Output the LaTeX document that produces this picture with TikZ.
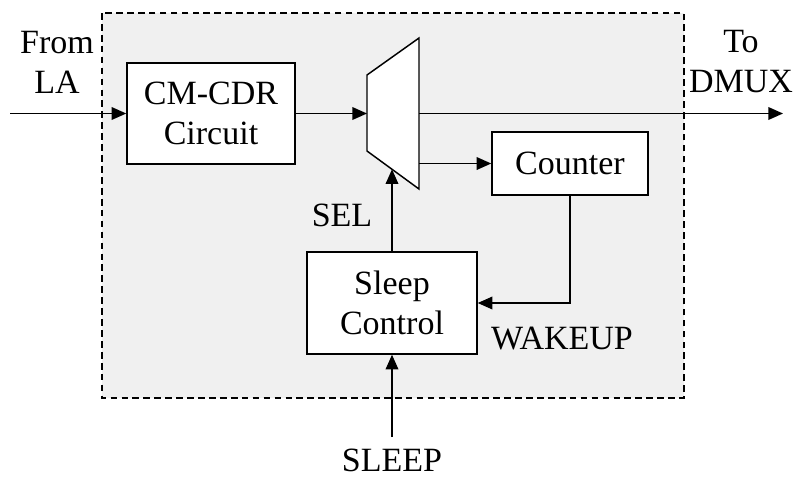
\documentclass[tikz,border=0pt]{standalone}
\usepackage{fontspec}
\setmainfont{Liberation Serif}
\usetikzlibrary{arrows.meta}
\begin{document}
\begin{tikzpicture}[x=0.75pt,y=-0.75pt,
  font=\fontsize{25.5}{30}\selectfont,
  line width=1.1pt,
  arr/.style={-{Triangle[length=11pt,width=9.5pt]}},
  blk/.style={draw, fill=white, align=center, inner sep=0pt},
  lbl/.style={align=center, inner sep=0pt}]
\useasboundingbox (0,0) rectangle (798,479);
\fill[white] (0,0) rectangle (798,479);
\draw[dashed, dash pattern=on 5pt off 3.2pt, fill=black!6] (102,13) rectangle (684,398);
% blocks
\node[blk, minimum width=126pt, minimum height=75.75pt] (cmcdr) at (211,113.5) {CM-CDR\\Circuit};
\node[blk, minimum width=117pt, minimum height=47.25pt] (counter) at (570,163.5) {Counter};
\node[blk, minimum width=127.5pt, minimum height=76.5pt] (sleep) at (392,303) {Sleep\\Control};
% mux
\coordinate (m1) at (367,75);
\coordinate (m2) at (419,38);
\coordinate (m3) at (419,189);
\coordinate (m4) at (367,151);
\draw[fill=white] (m1) -- (m2) -- (m3) -- (m4) -- cycle;
\coordinate (muxin) at (367,113.5);
\coordinate (muxout) at (419,113.5);
\coordinate (muxout2) at (419,163.5);
\coordinate (muxsel) at (392,169.3);
% free ends
\coordinate (inl) at (10,113.5);
\coordinate (outr) at (783,113.5);
\coordinate (sleepin) at (392,437);
% connectors
\draw[arr] (inl) -- (cmcdr.west);
\draw[arr] (cmcdr.east) -- (muxin);
\draw[arr] (muxout) -- (outr);
\draw[arr] (muxout2) -- (counter.west);
\draw[arr] (counter.south) |- (sleep.east);
\draw[arr] (sleep.north) -- (muxsel);
\draw[arr] (sleepin) -- (sleep.south);
% labels
\node[lbl] (from) at (57,62) {From\\LA};
\node[lbl] (to) at (741,62) {To\\DMUX};
\node[lbl] (sel) at (342,215) {SEL};
\node[lbl] (wake) at (562,339) {WAKEUP};
\node[lbl] (slp) at (392,460) {SLEEP};
\end{tikzpicture}
\end{document}
